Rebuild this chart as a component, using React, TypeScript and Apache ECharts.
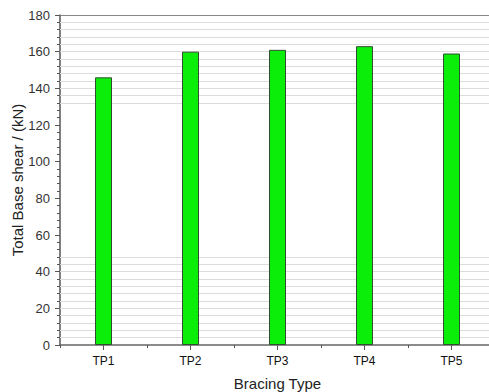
import React, { useEffect, useRef } from "react";
import * as echarts from "echarts";

const categories = ["TP1", "TP2", "TP3", "TP4", "TP5"];
const values = [146, 160, 161, 163, 159];
const yTicks = [0, 20, 40, 60, 80, 100, 120, 140, 160, 180];
// light stripe lines visible in the reference (0-48 and 132-176)
const stripeLines = [4, 8, 12, 16, 20, 24, 28, 32, 36, 40, 44, 48, 132, 136, 140, 144, 148, 152, 156, 160, 164, 168, 172, 176];

export default function App() {
  const ref = useRef<HTMLDivElement>(null);
  useEffect(() => {
    if (!ref.current) return;
    const chart = echarts.init(ref.current, undefined, { renderer: "svg" });
    const font = "Liberation Sans, Arial, sans-serif";
    chart.setOption({
      animation: false,
      backgroundColor: "#ffffff",
      grid: { left: 60, top: 15, width: 435, bottom: 47, containLabel: false, outerBoundsMode: "none" },
      xAxis: [
        {
          type: "category",
          data: categories,
          boundaryGap: true,
          name: "Bracing Type",
          nameLocation: "middle",
          nameGap: 31,
          nameMoveOverlap: false,
          nameTextStyle: { fontFamily: font, fontSize: 15, color: "#222" },
          axisLine: { show: true, lineStyle: { color: "#666", width: 1.5 } },
          axisTick: { show: true, alignWithLabel: true, length: 5, lineStyle: { color: "#555" } },
          axisLabel: { fontFamily: font, fontSize: 12, color: "#111", margin: 10 },
          splitLine: { show: false },
        },
        {
          type: "category",
          data: categories,
          boundaryGap: true,
          position: "bottom",
          axisLine: { show: false },
          axisTick: { show: true, length: 3, lineStyle: { color: "#555" } },
          axisLabel: { show: false },
          splitLine: { show: false },
        },
      ],
      yAxis: {
        type: "value",
        min: 0,
        max: 180,
        interval: 20,
        name: "Total Base shear / (kN)",
        nameLocation: "middle",
        nameGap: 35,
        nameMoveOverlap: false,
        nameTextStyle: { fontFamily: font, fontSize: 15, color: "#222" },
        axisLine: { show: true, lineStyle: { color: "#555", width: 1.5 } },
        axisTick: { show: true, length: 5, lineStyle: { color: "#555" } },
        minorTick: { show: true, splitNumber: 5, length: 3, lineStyle: { color: "#555" } },
        axisLabel: {
          fontFamily: font,
          fontSize: 13,
          color: "#333",
          margin: 10,
          formatter: (v: number) => (yTicks.includes(v) ? String(v) : ""),
        },
        splitLine: { show: false },
      },
      series: [
        {
          type: "bar",
          data: values,
          barWidth: 17,
          itemStyle: { color: "#0aee0a", borderColor: "#2f4f2f", borderWidth: 1 },
          markLine: {
            silent: true,
            symbol: "none",
            label: { show: false },
            z: 1,
            data: [
              ...stripeLines.map((v) => ({ yAxis: v, lineStyle: { color: "#dcdcdc", width: 1, type: "solid" } })),
              { yAxis: 180, lineStyle: { color: "#888", width: 1.2, type: "solid" } },
            ],
          },
        },
      ],
    });
    return () => chart.dispose();
  }, []);
  return <div ref={ref} style={{ width: 489, height: 392, position: "absolute", left: 0, top: 0 }} />;
}
